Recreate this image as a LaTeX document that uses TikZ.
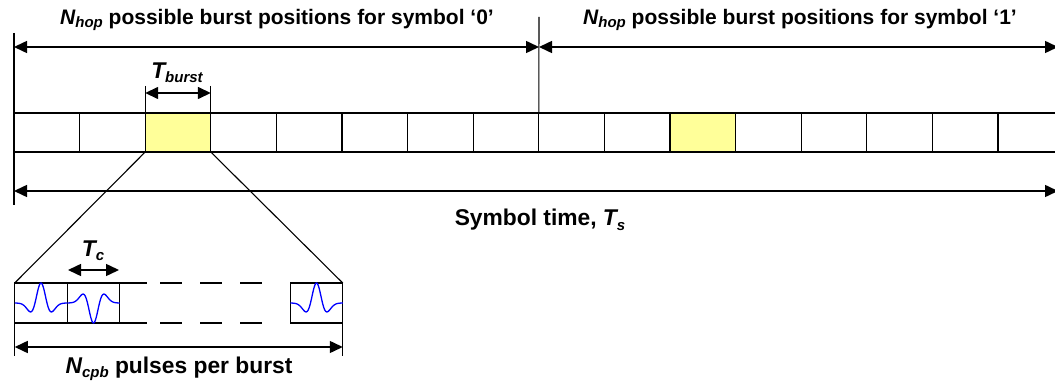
\documentclass[tikz,border=0pt]{standalone}
\usepackage{fontspec}
\setmainfont{Liberation Sans}
\usetikzlibrary{arrows.meta}
\definecolor{burstyellow}{HTML}{FFFF99}
\definecolor{pulseblue}{HTML}{0000FF}
\newcommand\mysub[1]{\raisebox{-0.35ex}{\fontsize{15}{15}\selectfont\bfseries\itshape #1}}
\newcommand\myvar[2]{{\itshape #1}\mysub{#2}}
\begin{document}
\begin{tikzpicture}[x=1pt,y=-1pt,
  cell/.style={draw,line width=1.1pt,minimum width=65.6pt,minimum height=39pt,inner sep=0pt,outer sep=0pt},
  pcell/.style={draw,line width=1.1pt,minimum width=52.5pt,minimum height=40pt,inner sep=0pt,outer sep=0pt},
  lbl/.style={font=\fontsize{21}{21}\selectfont\bfseries,inner sep=0pt},
  lblb/.style={font=\fontsize{22.8}{23}\selectfont\bfseries,inner sep=0pt},
  dim/.style={line width=1.5pt,{Triangle[length=13pt,width=12pt]}-{Triangle[length=13pt,width=12pt]}},
  tick/.style={line width=1.1pt},
  wave/.style={pulseblue,line width=1.3pt,samples=90,smooth}]
\useasboundingbox (0,0) rectangle (1055,382);
\clip (0,0) rectangle (1055,382);
\fill[white] (0,0) rectangle (1055,382);
% cells
\foreach \i in {0,...,15}{
  \ifnum\i=2 \def\cf{burstyellow}\else\ifnum\i=10 \def\cf{burstyellow}\else\def\cf{white}\fi\fi
  \node[cell,fill=\cf] (c\i) at ({14+65.6*\i+32.8},132.5) {};
}
% extension lines
\coordinate (ltop) at (14,33);
\coordinate (lbot) at (14,205);
\draw[tick] (ltop) -- (lbot);
\coordinate (mtop) at (539,17);
\draw[tick] (mtop) -- (c8.north west);
\coordinate (rend) at (1058,47);
\coordinate (lA) at (14,47);
\coordinate (mA) at (539,47);
\draw[dim] (lA) -- (mA);
\draw[dim] (mA) -- (rend);
\node[lbl] (t0) at (277,20) {\myvar{N}{hop} possible burst positions for symbol ‘0’};
\node[lbl] (t1) at (800,20) {\myvar{N}{hop} possible burst positions for symbol ‘1’};
% T burst
\coordinate (tb1) at (c2.north west |- 0,86);
\coordinate (tb2) at (c2.north east |- 0,86);
\draw[tick] (tb1) -- (c2.north west);
\draw[tick] (tb2) -- (c2.north east);
\coordinate (tba) at (c2.north west |- 0,93);
\coordinate (tbb) at (c2.north east |- 0,93);
\draw[dim] (tba) -- (tbb);
\node[lblb] (tburst) at (177,73) {\myvar{T}{burst}};
% symbol time
\coordinate (sA) at (14,191);
\coordinate (sB) at (1058,191);
\draw[dim] (sA) -- (sB);
\node[lblb] (st) at (540,220) {Symbol time, \myvar{T}{s}};
% pulse boxes
\node[pcell] (p1) at (41,303) {};
\node[pcell] (p2) at (93.5,303) {};
\node[pcell] (p3) at (316.5,303) {};
\draw[tick] (c2.south west) -- (p1.north west);
\draw[tick] (c2.south east) -- (p3.north east);
\draw[tick] (p2.north east) -- ++(27,0);
\draw[tick] (p2.south east) -- ++(27,0);
\foreach \a in {160,200,240}{
  \draw[tick] (\a,283) -- ++(22,0);
  \draw[tick] (\a,323) -- ++(22,0);
}
% waveforms
\draw[wave,domain=-26.25:26.25] plot ({41+\x},{303-20*(1-2*(\x/8.5)*(\x/8.5))*exp(-(\x/8.5)*(\x/8.5))});
\draw[wave,domain=-26.25:26.25] plot ({93.5+\x},{303+20*(1-2*(\x/8.5)*(\x/8.5))*exp(-(\x/8.5)*(\x/8.5))});
\draw[wave,domain=-26.25:26.25] plot ({316.5+\x},{303-20*(1-2*(\x/8.5)*(\x/8.5))*exp(-(\x/8.5)*(\x/8.5))});
% Tc
\coordinate (tc1) at (68,270);
\coordinate (tc2) at (119,270);
\draw[dim] (tc1) -- (tc2);
\node[lblb] (tc) at (93,251) {\myvar{T}{c}};
% Ncpb
\coordinate (nb1) at (p1.south west |- 0,356);
\coordinate (nb2) at (p3.south east |- 0,356);
\draw[tick] (p1.south west) -- (nb1);
\draw[tick] (p3.south east) -- (nb2);
\coordinate (na) at (p1.south west |- 0,347);
\coordinate (nb) at (p3.south east |- 0,347);
\draw[dim] (na) -- (nb);
\node[lblb] (ncpb) at (179,369) {\myvar{N}{cpb} pulses per burst};
\end{tikzpicture}
\end{document}
